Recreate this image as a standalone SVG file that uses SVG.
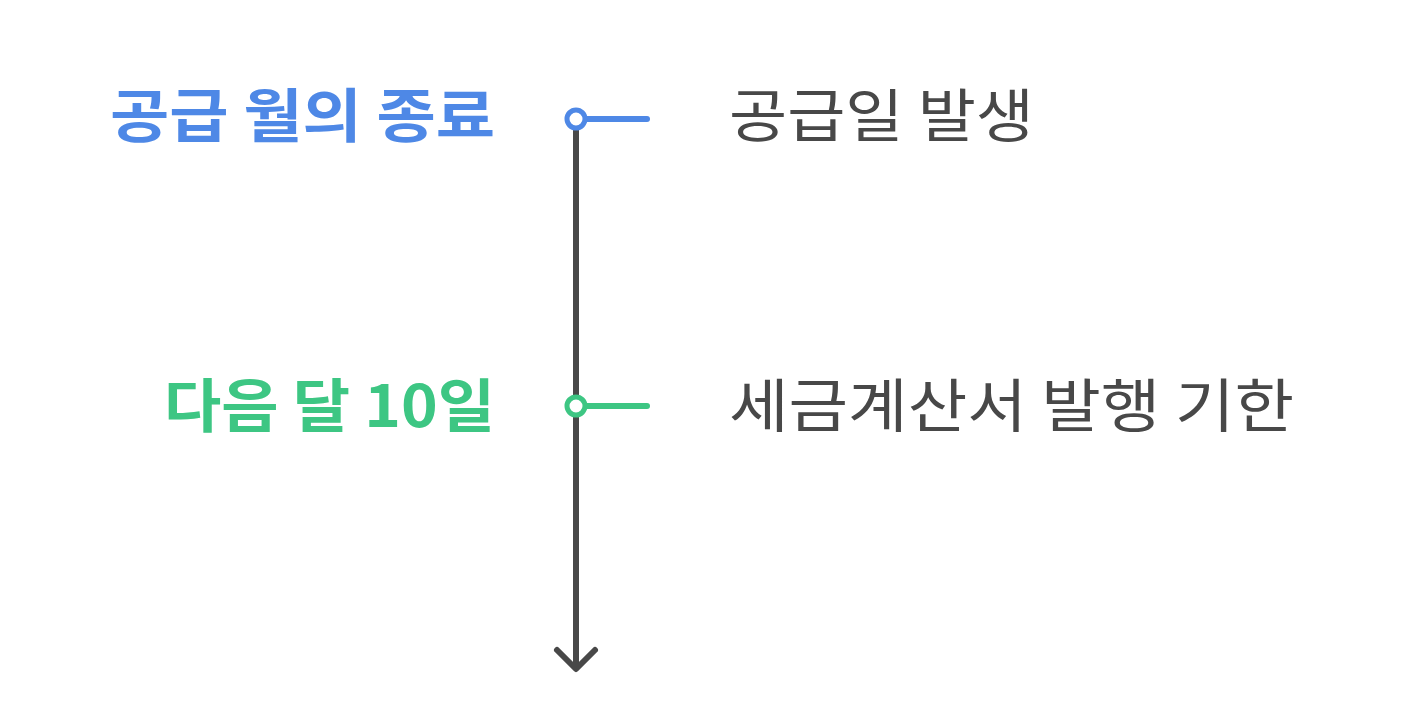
<svg xmlns="http://www.w3.org/2000/svg" width="1404" height="721" viewBox="0 0 1404 721">
<style>
.lbl{font-family:"Noto Sans CJK KR","Noto Sans",sans-serif;font-size:58px}
.left{font-weight:700}
.right{fill:#484848}
.blue{fill:#4e88e6}
.green{fill:#3dc683}
</style>
<rect width="1404" height="721" fill="#ffffff"/>
<g id="connectors">
<line x1="576" y1="126" x2="576" y2="667" stroke="#484848" stroke-width="6"/>
<polyline points="557,650 576,669 595,650" fill="none" stroke="#484848" stroke-width="6" stroke-linecap="round" stroke-linejoin="round"/>
<line x1="585" y1="119" x2="647" y2="119" stroke="#4e88e6" stroke-width="6" stroke-linecap="round"/>
<line x1="585" y1="406" x2="647" y2="406" stroke="#3dc683" stroke-width="6" stroke-linecap="round"/>
</g>
<g id="node1">
<circle cx="576" cy="119" r="9" fill="#ffffff" stroke="#4e88e6" stroke-width="5"/>
<text class="lbl left blue" x="110" y="137" textLength="385" lengthAdjust="spacingAndGlyphs">공급 월의 종료</text>
<text class="lbl right" x="729" y="137" textLength="305" lengthAdjust="spacingAndGlyphs">공급일 발생</text>
</g>
<g id="node2">
<circle cx="576" cy="406" r="9" fill="#ffffff" stroke="#3dc683" stroke-width="5"/>
<text class="lbl left green" x="164" y="427" textLength="331" lengthAdjust="spacingAndGlyphs">다음 달 10일</text>
<text class="lbl right" x="729" y="427" textLength="565" lengthAdjust="spacingAndGlyphs">세금계산서 발행 기한</text>
</g>
</svg>
